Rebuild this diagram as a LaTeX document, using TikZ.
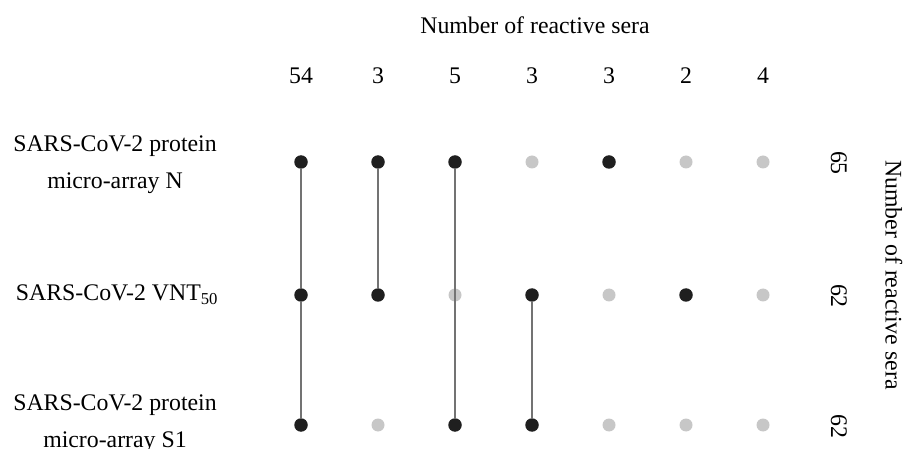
\documentclass[tikz,border=0pt]{standalone}
\usepackage{fontspec}
\setmainfont{Liberation Serif}
\begin{document}
\begin{tikzpicture}[x=1pt,y=-1pt]
  \tikzstyle{every node}+=[inner sep=0pt, font=\fontsize{23.8}{37}\selectfont]
  \tikzstyle{hit}=[circle, fill=black!88, minimum size=13.5pt]
  \tikzstyle{miss}=[circle, fill=black!22, minimum size=13pt]
  \tikzstyle{link}=[draw=black!55, line width=1.4pt]
  \useasboundingbox (0,0) rectangle (903,449);
  % titles
  \node (top) at (535,25) {Number of reactive sera};
  \node [rotate=-90] (side) at (894,275) {Number of reactive sera};
  % row labels
  \node [align=center] (rN) at (115,164.5) {SARS-CoV-2 protein\\micro-array N};
  \node (rV) at (117,295) {SARS-CoV-2 VNT\textsubscript{50}};
  \node [align=center] (rS) at (115,424) {SARS-CoV-2 protein\\micro-array S1};
  % column counts
  \node (c1) at (301,76) {54};
  \node (c2) at (378,76) {3};
  \node (c3) at (455,76) {5};
  \node (c4) at (532,76) {3};
  \node (c5) at (609,76) {3};
  \node (c6) at (686,76) {2};
  \node (c7) at (763,76) {4};
  % row counts
  \node [rotate=-90] (tN) at (839,163) {65};
  \node [rotate=-90] (tV) at (839,296) {62};
  \node [rotate=-90] (tS) at (839,426) {62};
  % dots
  \node [hit] (n1) at (301,162) {};
  \node [hit] (v1) at (301,295) {};
  \node [hit] (s1) at (301,425) {};
  \node [hit] (n2) at (378,162) {};
  \node [hit] (v2) at (378,295) {};
  \node [miss] (s2) at (378,425) {};
  \node [hit] (n3) at (455,162) {};
  \node [miss] (v3) at (455,295) {};
  \node [hit] (s3) at (455,425) {};
  \node [miss] (n4) at (532,162) {};
  \node [hit] (v4) at (532,295) {};
  \node [hit] (s4) at (532,425) {};
  \node [hit] (n5) at (609,162) {};
  \node [miss] (v5) at (609,295) {};
  \node [miss] (s5) at (609,425) {};
  \node [miss] (n6) at (686,162) {};
  \node [hit] (v6) at (686,295) {};
  \node [miss] (s6) at (686,425) {};
  \node [miss] (n7) at (763,162) {};
  \node [miss] (v7) at (763,295) {};
  \node [miss] (s7) at (763,425) {};
  % links
  \draw [link] (n1) -- (v1);
  \draw [link] (v1) -- (s1);
  \draw [link] (n2) -- (v2);
  \draw [link] (n3) -- (s3);
  \draw [link] (v4) -- (s4);
\end{tikzpicture}
\end{document}
